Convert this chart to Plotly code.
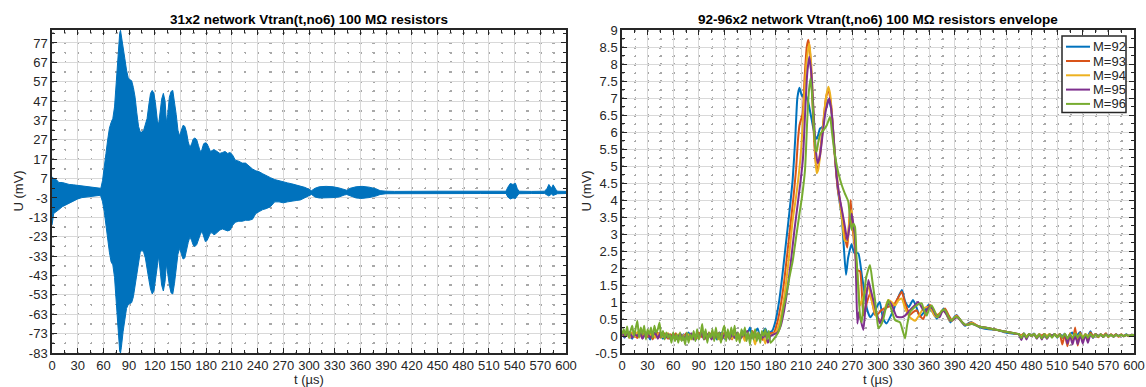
import plotly.graph_objects as go

# ---------------- Left panel: envelope of the dense oscillation ----------------
env_t = [0, 2, 5, 8, 12, 16, 20, 25, 30, 35,
         40, 45, 50, 55, 57, 59, 61, 63, 65, 67,
         69, 71, 73, 75, 77, 79, 80, 81, 83, 85,
         87, 89, 91, 93, 95, 97, 99, 101, 103, 105,
         107, 109, 111, 113, 115, 117, 119, 121, 123, 124.5,
         126, 128, 130, 132, 133.5, 135, 137, 139, 141, 143,
         145, 147, 149, 151, 153, 155, 157, 159, 161, 163,
         165, 167, 169, 171, 173, 175, 177, 179, 181, 183,
         185, 187, 189, 191, 193, 196, 199, 202, 205, 208,
         211, 214, 218, 222, 226, 230, 234, 238, 242, 246,
         250, 255, 260, 265, 270, 275, 280, 285, 290, 295,
         300, 303, 307, 312, 320, 328, 335, 341, 344, 348,
         355, 362, 370, 378, 383, 390, 400, 450, 500, 530,
         532, 535, 538, 541, 543, 545, 560, 575, 578, 580,
         583, 585, 588, 590, 600]
env_upper = [8, 7, 6.5, 5, 5, 4.5, 4, 3.8, 3.5, 3.2,
             2.8, 2.5, 2.2, 1.8, 2, 6, 12, 20, 27, 33,
             36, 38, 44, 58, 72, 82, 83.5, 80, 74, 69,
             63, 59, 58, 57.5, 54, 49, 41, 34, 31, 31,
             32, 35, 38, 45, 51, 52.5, 51, 45, 37, 35,
             40, 48, 51, 47, 36, 40, 49, 52, 52.5, 47,
             40, 32, 29, 32, 34.5, 34, 31, 26, 23, 25,
             27.5, 28, 27, 24, 21, 22, 25, 25.5, 25, 23,
             21, 21.5, 22, 21.5, 21, 20, 20.5, 21, 20, 20.5,
             19, 16.5, 16, 15, 15, 13.5, 12, 11, 10.5, 9.5,
             8.5, 7.5, 6.5, 5.8, 5.2, 4.8, 4.3, 3.8, 3.3, 2.5,
             1.5, 0.8, 2, 2.8, 3, 2.8, 2.2, 1.2, 1, 2,
             2.8, 3, 2.6, 1.8, 0.8, 0.5, 0.4, 0.5, 0.4, 0.5,
             2.5, 4.5, 4, 4.6, 2, 0.5, 0.4, 0.5, 2, 4,
             2, 3.8, 1.5, 0.5, 0.4]
env_lower = [-17, -11, -10, -9, -7.5, -6.5, -5.5, -4.5, -3.5, -2.8,
             -2.5, -2.3, -2, -1.7, -2, -5, -10, -17, -23, -31,
             -36, -37.5, -44, -58, -70, -82, -83, -80, -72, -65,
             -60, -58, -57.5, -57, -54, -50, -43, -37, -31, -30,
             -31, -34, -38, -45, -50, -52.5, -51, -46, -38, -33,
             -41, -48, -51, -46, -37, -40, -48, -52, -52.5, -47,
             -40, -32, -29, -32, -34.5, -34, -31, -26, -23, -25,
             -27.5, -28, -27, -25, -22, -20, -23, -25.5, -25, -23,
             -21, -21, -22, -21.5, -21, -19.5, -19, -19.5, -20, -19.5,
             -17, -15.5, -15, -15, -14.5, -14.5, -14, -11, -10, -9,
             -8.5, -7.5, -5, -5, -5.5, -5, -4.5, -4.3, -4, -3,
             -1.8, -1.2, -2.5, -3, -3, -2.8, -2.5, -1.5, -1.2, -2,
             -3, -3.2, -2.8, -2, -1.2, -0.8, -0.7, -0.6, -0.7, -0.7,
             -2.5, -3.5, -3, -3.2, -2, -0.8, -0.7, -0.7, -1.5, -2,
             -1, -1.7, -1, -0.8, -0.7]

left_xticks = list(range(0, 601, 30))
left_yticks = list(range(-83, 78, 10))

# ---------------- Right panel: envelopes M=92..96 ----------------
names = ["M=92", "M=93", "M=94", "M=95", "M=96"]
colors = ["#0072BD", "#D95319", "#EDB120", "#7E2F8E", "#77AC30"]

noise_t3 = list(range(0, 175, 3))
noise_t2 = list(range(0, 175, 2))
noise_92 = [0.08, -0.05, 0.1, 0.0, -0.08, 0.12, 0.02, 0.08, -0.06, 0.1,
            0.03, -0.1, 0.06, 0.1, -0.03, 0.08, -0.08, 0.05, 0.0, -0.1,
            0.08, -0.05, 0.03, -0.1, 0.05, -0.08, 0.1, -0.05, 0.05, -0.1,
            0.08, 0.0, 0.12, -0.08, 0.05, -0.05, 0.1, -0.1, 0.03, 0.1,
            -0.08, 0.05, -0.03, 0.12, -0.05, 0.08, -0.08, 0.15, 0.0, 0.05,
            0.25, -0.05, 0.12, 0.22, -0.05, 0.1, 0.22, 0.05, 0.12]
noise_93 = [0.1, 0.0, 0.12, -0.05, 0.1, 0.03, -0.06, 0.1, 0.0, 0.12,
            -0.03, 0.08, -0.1, 0.05, 0.1, -0.05, 0.12, 0.0, -0.08, 0.05,
            -0.05, 0.08, -0.12, 0.03, -0.05, 0.08, -0.1, 0.05, 0.0, -0.08,
            0.1, -0.03, 0.08, -0.1, 0.1, 0.0, -0.08, 0.08, 0.03, -0.1,
            0.1, -0.03, 0.05, -0.1, 0.12, 0.0, -0.05, 0.1, -0.08, 0.05,
            -0.1, 0.15, -0.05, 0.08, 0.0, -0.12, 0.1, 0.03, 0.08]
noise_94 = [0.0, 0.1, 0.05, -0.05, 0.1, -0.03, 0.12, 0.03, -0.05, 0.08,
            0.05, 0.0, 0.12, -0.05, 0.05, 0.1, -0.03, 0.03, 0.08, -0.1,
            0.0, -0.08, 0.05, -0.1, 0.03, -0.05, 0.05, -0.1, 0.08, 0.0,
            -0.08, 0.1, 0.03, -0.05, 0.05, -0.08, 0.1, 0.0, -0.1, 0.08,
            -0.05, 0.1, 0.0, -0.08, 0.08, -0.1, 0.05, 0.03, -0.15, 0.05,
            -0.1, 0.03, -0.25, 0.05, -0.05, 0.03, -0.22, 0.05, 0.03]
noise_95 = [0.1, -0.03, 0.05, 0.12, -0.05, 0.05, 0.0, 0.12, -0.08, 0.05,
            0.1, -0.05, 0.03, 0.08, -0.08, 0.1, 0.03, -0.05, 0.05, -0.08,
            0.05, -0.1, 0.0, 0.05, -0.12, 0.03, -0.05, 0.08, -0.1, 0.03,
            -0.03, 0.1, -0.1, 0.05, 0.03, -0.1, 0.05, -0.03, 0.1, -0.08,
            0.03, 0.08, -0.1, 0.05, -0.05, 0.1, -0.1, 0.0, 0.08, 0.15,
            -0.1, 0.03, 0.05, -0.08, 0.03, -0.05, 0.05, -0.2, 0.0]
noise_96 = [0.05, 0.2, 0.0, 0.28, -0.05, 0.15, 0.3, 0.0, 0.22, 0.45,
            -0.05, 0.25, 0.05, 0.3, -0.1, 0.2, 0.05, 0.25, -0.05, 0.3,
            0.1, 0.2, 0.4, -0.05, 0.15, -0.1, 0.1, -0.05, 0.05, -0.2,
            0.1, -0.15, 0.05, -0.2, 0.1, -0.15, 0.0, -0.25, 0.1, -0.2,
            0.05, -0.1, 0.15, -0.15, 0.2, -0.1, 0.05, 0.35, -0.1, 0.2,
            -0.2, 0.1, -0.05, 0.2, -0.15, 0.25, -0.1, 0.1, -0.2, 0.15,
            0.3, -0.15, 0.2, -0.1, 0.25, 0.0, 0.3, -0.15, 0.1, -0.2,
            0.2, 0.0, 0.25, -0.15, 0.1, -0.25, 0.15, -0.1, 0.2, -0.15,
            0.1, -0.2, 0.15, 0.0, 0.2, -0.1, 0.15, -0.2]

pulse_t_92 = [176, 180, 184, 188, 192, 196, 200, 203, 205.5, 208,
              211, 214, 218, 222, 226, 228.5, 232, 235, 238, 242,
              245, 249, 253, 257.5, 260, 262.5, 265, 269, 272, 274,
              277, 281, 284, 287, 291, 296.5, 302, 306, 310, 318,
              323, 328, 332, 336, 341, 345, 349, 354, 359, 364,
              369, 373, 377, 381, 385, 389, 392, 397, 402, 406,
              410, 416, 423, 430, 439, 447, 455, 462]
pulse_92 = [0.15, 0.45, 1.0, 1.8, 2.7, 3.6, 4.6, 5.8, 7.0, 7.3,
            7.05, 7.15, 6.9, 6.4, 5.9, 5.8, 6.1, 6.15, 6.6, 6.95,
            6.7, 5.5, 4.3, 3.5, 2.6, 1.8, 2.3, 2.7, 2.45, 2.45,
            2.43, 1.8, 1.3, 0.8, 0.55, 0.75, 1.0, 0.5, 0.37, 0.76,
            1.1, 1.35, 1.0, 0.85, 1.06, 0.85, 0.57, 0.7, 0.91, 0.7,
            0.51, 0.65, 0.81, 0.6, 0.4, 0.55, 0.62, 0.45, 0.3, 0.38,
            0.4, 0.3, 0.23, 0.2, 0.18, 0.12, 0.08, 0.06]

pulse_t_93 = [178, 182, 186, 190, 194, 198, 201, 204, 206, 208,
              211.7, 214, 216.5, 218.4, 220.5, 223, 225.5, 228, 230, 233,
              236, 239, 242, 245, 249, 253, 257.5, 261.3, 264, 266,
              268, 270, 272, 275.8, 279, 282.8, 286, 290.6, 294, 296.5,
              300, 304, 312, 318, 323, 327.8, 332, 337.5, 341, 345,
              349, 353, 357, 361, 365, 369, 374, 378.5, 383, 387,
              392, 397, 402, 410, 418, 425, 435, 445, 455, 462]
pulse_93 = [0.1, 0.4, 0.9, 1.6, 2.5, 3.4, 4.1, 4.9, 5.7, 6.2,
            6.55, 7.6, 8.5, 8.71, 8.3, 7.0, 5.6, 4.9, 5.0, 5.6,
            6.3, 7.0, 7.25, 6.8, 5.4, 4.3, 3.7, 2.9, 2.6, 3.3,
            4.0, 3.2, 2.8, 1.94, 1.9, 0.6, 0.9, 1.25, 0.9, 0.62,
            0.65, 0.76, 0.86, 0.9, 1.1, 1.3, 0.95, 0.62, 0.7, 0.76,
            0.6, 0.5, 0.75, 0.91, 0.75, 0.62, 0.7, 0.81, 0.6, 0.45,
            0.6, 0.45, 0.32, 0.4, 0.28, 0.25, 0.2, 0.15, 0.1, 0.07]

pulse_t_94 = [180, 184, 188, 192, 196, 200, 204, 207, 210, 213,
              216, 219.5, 222, 224.5, 226.5, 228.1, 230, 233, 236, 239,
              241.8, 244, 247, 250, 254, 258, 261, 264, 266.5, 269,
              271.5, 274, 277, 279, 282, 285, 288.7, 292, 296.5, 300,
              304, 308, 312, 316, 320, 324, 327.8, 332, 337.5, 343.4,
              348, 353, 358, 362, 366, 370, 375, 379, 384, 388,
              392, 397, 402, 410, 418, 425, 435, 445, 455, 462]
pulse_94 = [0.1, 0.35, 0.8, 1.5, 2.4, 3.4, 4.1, 4.7, 5.5, 6.8,
            8.0, 8.61, 7.9, 6.5, 5.3, 4.79, 4.9, 5.5, 6.3, 7.0,
            7.33, 7.1, 6.2, 5.2, 4.2, 3.4, 2.8, 2.8, 3.4, 3.7,
            3.0, 2.4, 1.5, 0.9, 1.1, 1.3, 1.45, 1.1, 0.67, 0.5,
            0.47, 0.8, 1.06, 1.0, 0.9, 1.05, 1.1, 0.8, 0.55, 0.45,
            0.6, 0.8, 0.85, 0.8, 0.6, 0.55, 0.75, 0.7, 0.45, 0.5,
            0.58, 0.45, 0.32, 0.38, 0.28, 0.24, 0.2, 0.15, 0.1, 0.07]

pulse_t_95 = [182, 186, 190, 194, 198, 202, 206, 209, 212, 214.5,
              217, 219.5, 222, 224.5, 227, 229.3, 232, 235, 238.5, 243,
              246, 249, 251.6, 255.5, 258.5, 261.3, 264, 266.5, 269.2, 271,
              273, 274.5, 275.8, 277.5, 279.5, 282.8, 285.5, 288.7, 291.5, 294.5,
              298, 302.3, 305, 308, 314, 318, 321.8, 327.8, 331.7, 337.5,
              343, 347, 351, 355, 360, 364, 368, 372, 376, 380,
              385, 389, 393, 398, 403, 410, 418, 425, 435, 445,
              455, 462]
pulse_95 = [0.1, 0.3, 0.75, 1.4, 2.2, 3.1, 3.9, 4.5, 5.2, 6.5,
            7.7, 8.21, 7.7, 6.6, 5.5, 5.08, 5.3, 5.9, 6.6, 6.99,
            6.5, 5.5, 4.69, 4.0, 3.6, 3.21, 2.82, 3.2, 3.6, 3.3,
            2.92, 1.5, 0.37, 0.7, 0.5, 0.18, 0.9, 1.65, 1.35, 1.06,
            0.7, 0.37, 0.55, 0.76, 1.0, 0.8, 0.57, 0.55, 0.6, 0.76,
            0.9, 1.0, 0.85, 0.7, 0.85, 0.8, 0.6, 0.55, 0.75, 0.65,
            0.45, 0.5, 0.55, 0.42, 0.32, 0.36, 0.28, 0.25, 0.2, 0.15,
            0.1, 0.07]

pulse_t_96 = [183, 186, 189, 192, 196, 200, 204, 208, 211, 214.5,
              217, 219, 221, 223, 225, 226.8, 228.1, 230, 232.5, 236,
              240, 243.8, 246, 249, 251.6, 254, 257.5, 261, 265.2, 267,
              269, 271, 273, 275, 277, 279, 281, 283, 286, 290.6,
              293.5, 296.5, 298.5, 300.4, 303, 306, 309, 312, 316, 320,
              325.8, 329, 331.7, 334, 337.5, 343.4, 347, 351.2, 354, 357,
              360, 363, 366, 370, 374, 378, 382, 386, 390, 394,
              399, 404, 410, 418, 425, 435, 445, 455, 462]
pulse_96 = [0.1, 0.35, 0.8, 1.15, 1.7, 2.2, 2.9, 3.6, 4.1, 4.9,
            6.3, 7.2, 7.58, 7.0, 6.1, 5.5, 5.42, 5.7, 5.95, 6.05,
            6.2, 6.45, 6.0, 5.4, 5.03, 4.75, 4.44, 4.2, 3.95, 3.5,
            3.12, 3.3, 3.21, 2.2, 1.35, 0.6, 0.4, 1.0, 1.7, 2.09,
            1.6, 1.06, 0.6, 0.23, 0.3, 0.47, 0.8, 1.06, 0.75, 0.47,
            0.4, 0.15, -0.07, 0.3, 0.7, 0.86, 0.93, 0.96, 0.75, 0.6,
            0.8, 0.9, 0.75, 0.55, 0.72, 0.78, 0.6, 0.45, 0.55, 0.55,
            0.4, 0.32, 0.36, 0.28, 0.25, 0.2, 0.15, 0.1, 0.07]

tail_t = list(range(465, 601, 3))
tail_92 = [0.06, 0.0, 0.08, -0.04, 0.06, 0.02, 0.07, -0.03, 0.05, 0.0,
           0.06, -0.04, 0.05, 0.01, 0.06, -0.05, 0.05, 0.0, 0.07, -0.06,
           0.05, 0.1, -0.08, 0.04, 0.12, -0.1, 0.05, 0.0, 0.14, -0.05,
           0.06, 0.0, 0.05, -0.03, 0.06, 0.0, 0.04, -0.02, 0.05, 0.0,
           0.04, -0.01, 0.05, 0.0, 0.04, 0.03]
tail_93 = [0.05, 0.02, 0.07, -0.02, 0.05, 0.0, 0.06, -0.05, 0.05, 0.01,
           0.06, -0.02, 0.05, 0.0, 0.05, -0.03, 0.06, -0.25, 0.05, -0.3,
           0.08, -0.2, 0.25, -0.28, 0.1, -0.15, 0.05, -0.1, 0.1, 0.0,
           0.06, -0.04, 0.05, 0.0, 0.08, -0.03, 0.05, 0.0, 0.05, -0.02,
           0.05, 0.0, 0.04, -0.01, 0.04, 0.03]
tail_94 = [0.05, 0.0, 0.06, -0.03, 0.05, 0.01, 0.06, -0.04, 0.05, -0.06,
           0.06, 0.0, 0.05, -0.02, 0.05, 0.0, 0.05, -0.05, 0.06, -0.08,
           0.05, -0.1, 0.08, -0.05, 0.06, -0.02, 0.05, 0.0, 0.05, -0.03,
           0.05, 0.0, 0.04, -0.02, 0.05, 0.0, 0.04, -0.02, 0.04, 0.0,
           0.04, -0.01, 0.04, 0.0, 0.03, 0.03]
tail_95 = [0.05, -0.12, 0.06, -0.1, 0.05, 0.0, 0.05, -0.08, 0.04, -0.1,
           0.05, -0.09, 0.04, 0.0, 0.05, -0.03, 0.05, -0.05, 0.04, -0.22,
           0.03, -0.25, 0.04, -0.24, 0.03, -0.22, 0.04, -0.2, 0.05, -0.05,
           0.05, 0.0, 0.04, -0.03, 0.05, 0.0, 0.04, -0.02, 0.04, 0.0,
           0.04, -0.01, 0.04, 0.0, 0.03, 0.03]
tail_96 = [0.06, -0.06, 0.07, -0.05, 0.06, 0.0, 0.06, -0.06, 0.05, -0.07,
           0.06, -0.06, 0.05, -0.05, 0.06, -0.04, 0.05, -0.05, 0.06, -0.08,
           0.05, -0.06, 0.07, -0.05, 0.06, -0.07, 0.05, -0.05, 0.06, -0.04,
           0.05, -0.03, 0.05, -0.03, 0.05, -0.02, 0.04, -0.02, 0.04, -0.01,
           0.04, -0.01, 0.04, 0.0, 0.03, 0.03]

right_yticks = [-0.5 + 0.5 * i for i in range(20)]
right_ylabels = ["%g" % v for v in right_yticks]

series = [
    (noise_t3, noise_92, pulse_t_92, pulse_92, tail_92),
    (noise_t3, noise_93, pulse_t_93, pulse_93, tail_93),
    (noise_t3, noise_94, pulse_t_94, pulse_94, tail_94),
    (noise_t3, noise_95, pulse_t_95, pulse_95, tail_95),
    (noise_t2, noise_96, pulse_t_96, pulse_96, tail_96),
]

# ---------------- Figure ----------------
W, H = 1146, 387
FONT = "Liberation Sans, Arial, Helvetica, sans-serif"
AX = "#262626"
MINOR_C = "#a8a8a8"

fig = go.Figure()

fig.add_trace(go.Scatter(
    x=env_t + env_t[::-1], y=env_upper + env_lower[::-1],
    fill="toself", fillcolor="#0072BD", mode="lines",
    line=dict(color="#0072BD", width=1), showlegend=False,
    hoverinfo="skip", xaxis="x", yaxis="y"))

for name, col, (nt, nz, pt, pv, tl) in zip(names, colors, series):
    t = [a for a, b in zip(nt, nz) if a < pt[0]]
    v = [b for a, b in zip(nt, nz) if a < pt[0]]
    t += pt + tail_t[:len(tl)]
    v += pv + tl
    fig.add_trace(go.Scatter(
        x=t, y=v, mode="lines", name=name, showlegend=False,
        line=dict(color=col, width=2, shape="spline", smoothing=0.5),
        xaxis="x2", yaxis="y2"))


def axis_common():
    return dict(
        showline=True, linecolor=AX, linewidth=1.5, mirror="allticks",
        ticks="inside", ticklen=5, tickwidth=1, tickcolor=AX,
        showgrid=True, gridcolor="#d9d9d9", gridwidth=1, zeroline=False,
        tickfont=dict(family=FONT, size=13, color=AX),
    )


def minor(dtick, tick0, dash):
    return dict(dtick=dtick, tick0=tick0, ticks="inside", ticklen=3, tickcolor=AX,
                showgrid=True, gridcolor=MINOR_C, gridwidth=1.5, griddash=dash)


xl = [52 / W, 566 / W]
xr = [622 / W, 1134 / W]
yd = [1 - 353 / H, 1 - 30 / H]

fig.update_layout(
    width=W, height=H, template="none",
    margin=dict(l=0, r=0, t=0, b=0),
    paper_bgcolor="white", plot_bgcolor="white",
    showlegend=False,
    xaxis=dict(domain=xl, range=[0, 600], tickvals=left_xticks, anchor="y",
               minor=minor(15, 0, "0px,2.54px,1.5px,5.65px"), **axis_common()),
    yaxis=dict(domain=yd, range=[-83, 83.7], tickvals=left_yticks,
               ticktext=[str(v) for v in left_yticks], anchor="x",
               minor=minor(5, -83, "1.5px,11.35px"), **axis_common()),
    xaxis2=dict(domain=xr, range=[0, 600], tickvals=left_xticks, anchor="y2",
                minor=minor(15, 0, "1.5px,7px"), **axis_common()),
    yaxis2=dict(domain=yd, range=[-0.5, 9], tickvals=right_yticks,
                ticktext=right_ylabels, anchor="x2",
                minor=minor(0.25, -0.5, "1.5px,11.3px"), **axis_common()),
)

ann = []
for cx, title in [((52 + 566) / 2, "31x2 network Vtran(t,no6) 100 MΩ resistors"),
                  ((622 + 1134) / 2, "92-96x2 network Vtran(t,no6) 100 MΩ resistors envelope")]:
    ann.append(dict(x=cx / W, y=1 - 19 / H, xref="paper", yref="paper",
                    text="<b>" + title + "</b>", showarrow=False,
                    xanchor="center", yanchor="middle",
                    font=dict(family=FONT, size=13.5, color="black")))
    ann.append(dict(x=cx / W, y=1 - 379.5 / H, xref="paper", yref="paper",
                    text="t (µs)", showarrow=False, xanchor="center", yanchor="middle",
                    font=dict(family=FONT, size=13, color=AX)))
for lx in [18, 586]:
    ann.append(dict(x=lx / W, y=1 - 191.5 / H, xref="paper", yref="paper",
                    text="U (mV)", showarrow=False, textangle=-90,
                    xanchor="center", yanchor="middle",
                    font=dict(family=FONT, size=13, color=AX)))

# manual legend (MATLAB-like compact box)
shapes = [dict(type="rect", xref="paper", yref="paper",
               x0=1062 / W, x1=1126 / W, y0=1 - 112.5 / H, y1=1 - 36 / H,
               line=dict(color=AX, width=1.5), fillcolor="white", layer="above")]
for i, (name, col) in enumerate(zip(names, colors)):
    yy = 46.7 + 14.3 * i
    shapes.append(dict(type="line", xref="paper", yref="paper",
                       x0=1066 / W, x1=1090 / W, y0=1 - yy / H, y1=1 - yy / H,
                       line=dict(color=col, width=2), layer="above"))
    ann.append(dict(x=1091 / W, y=1 - yy / H, xref="paper", yref="paper",
                    text=name, showarrow=False, xanchor="left", yanchor="middle",
                    font=dict(family=FONT, size=13, color=AX)))
fig.update_layout(annotations=ann, shapes=shapes)

fig.write_html("out.html", config={"displayModeBar": False},
               post_script="document.body.style.margin='0px';document.body.style.overflow='hidden';")
